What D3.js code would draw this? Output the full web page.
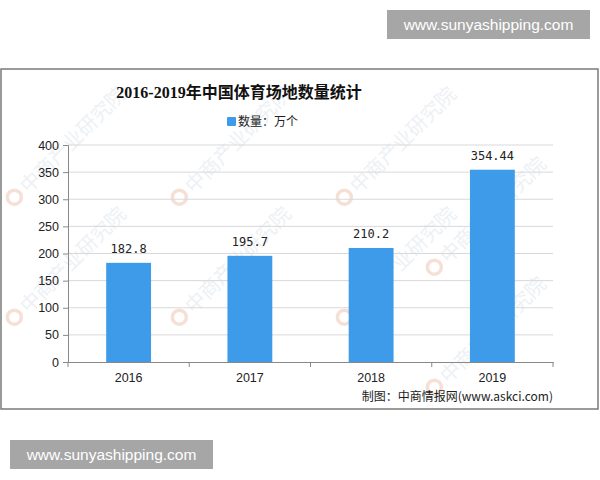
<!DOCTYPE html>
<html><head><meta charset="utf-8">
<script src="https://cdn.jsdelivr.net/npm/d3@7"></script>
<style>body{margin:0;background:#fff}svg{display:block}</style>
</head><body>
<svg id="c" width="600" height="480"></svg>
<script>
const years = ["2016","2017","2018","2019"];
const counts = [182.8, 195.7, 210.2, 354.44];
const countLabels = ["182.8","195.7","210.2","354.44"];
const yTicks = [0,50,100,150,200,250,300,350,400];
const titleText = "2016-2019年中国体育场地数量统计";
const legendText = "数量：万个";
const sourceText = "制图：中商情报网(www.askci.com)";
const siteText = "www.sunyashipping.com";
const watermark = "中商产业研究院";

const svg = d3.select("#c");
const cjk = "'Noto Sans CJK SC','Noto Sans',sans-serif";

// site boxes
[[387,10],[10,440]].forEach(([x,y])=>{
  svg.append("rect").attr("x",x).attr("y",y).attr("width",203).attr("height",29).attr("fill","#a6a6a6");
  svg.append("text").attr("x",x+101.5).attr("y",y+20).attr("text-anchor","middle")
    .attr("fill","#fff").attr("font-family","'Liberation Sans',Arial,sans-serif").attr("font-size",15.5).text(siteText);
});

// frame
svg.append("rect").attr("x",1).attr("y",69).attr("width",597).attr("height",340)
  .attr("fill","#fff").attr("stroke","#7a7a7a").attr("stroke-width",1.5);

// watermarks
const wm = svg.append("g");
const wmPos = [[20,200],[185,200],[350,200],[20,320],[185,320],[350,320],[440,390],[440,270]];
wmPos.forEach(([x,y])=>{
  const g = wm.append("g").attr("transform",`translate(${x},${y}) rotate(-45)`);
  g.append("circle").attr("cx",-2).attr("cy",-6).attr("r",7).attr("fill","none").attr("stroke","#f6e0d6").attr("stroke-width",3.5);
  g.append("text").attr("x",10).attr("y",2).attr("font-family",cjk).attr("font-size",20)
    .attr("fill","#edf1f5").text(watermark);
});

const x = d3.scaleBand().domain(years).range([68,553]).paddingInner(0.63).paddingOuter(0.315);
const y = d3.scaleLinear().domain([0,400]).range([362,145]);

// grid
svg.append("g").selectAll("line").data(yTicks.slice(1)).join("line")
  .attr("x1",68).attr("x2",553).attr("y1",d=>y(d)).attr("y2",d=>y(d))
  .attr("stroke","#d9d9d9").attr("stroke-width",1);

// bars
svg.append("g").selectAll("rect").data(counts).join("rect")
  .attr("x",(d,i)=>x(years[i])).attr("width",x.bandwidth())
  .attr("y",d=>y(d)).attr("height",d=>y(0)-y(d)).attr("fill","#3d9be9");

// value labels
svg.append("g").selectAll("text").data(counts).join("text")
  .attr("x",(d,i)=>x(years[i])+x.bandwidth()/2).attr("y",d=>y(d)-10)
  .attr("text-anchor","middle").attr("font-family","'DejaVu Sans Mono',monospace").attr("font-size",12)
  .attr("fill","#222").text((d,i)=>countLabels[i]);

// y axis
const ya = svg.append("g").attr("transform","translate(68,0)")
  .call(d3.axisLeft(y).tickValues(yTicks).tickSize(5).tickPadding(4).tickFormat(d3.format("d")));
ya.select(".domain").attr("stroke","#888");
ya.selectAll(".tick line").attr("stroke","#888");
ya.selectAll("text").attr("font-family","'Liberation Sans',Arial,sans-serif").attr("font-size",12.5).attr("fill","#222");

// x axis
const xa = svg.append("g").attr("transform","translate(0,362)")
  .call(d3.axisBottom(x).tickSize(0).tickPadding(11).tickSizeOuter(0));
xa.select(".domain").attr("stroke","#888");
xa.selectAll("text").attr("font-family","'Liberation Sans',Arial,sans-serif").attr("font-size",12.5).attr("fill","#222");
const step = x.step();
const bounds = years.map((d,i)=>68+i*step).concat([553]);
svg.append("g").selectAll("line").data(bounds).join("line")
  .attr("x1",d=>d).attr("x2",d=>d).attr("y1",362).attr("y2",367).attr("stroke","#888");

// title
svg.append("text").attr("x",239).attr("y",98).attr("text-anchor","middle")
  .attr("font-family","'Liberation Serif','Noto Sans CJK SC',serif").attr("font-weight","bold")
  .attr("font-size",16).attr("fill","#111").text(titleText);

// legend
svg.append("rect").attr("x",227).attr("y",117).attr("width",9).attr("height",9).attr("rx",1).attr("fill","#3d9be9");
svg.append("text").attr("x",238).attr("y",126).attr("font-family",cjk).attr("font-size",12).attr("fill","#222").text(legendText);

// source
svg.append("text").attr("x",553).attr("y",401).attr("text-anchor","end")
  .attr("font-family",cjk).attr("font-size",12).attr("fill","#222").text(sourceText);
</script>
</body></html>
